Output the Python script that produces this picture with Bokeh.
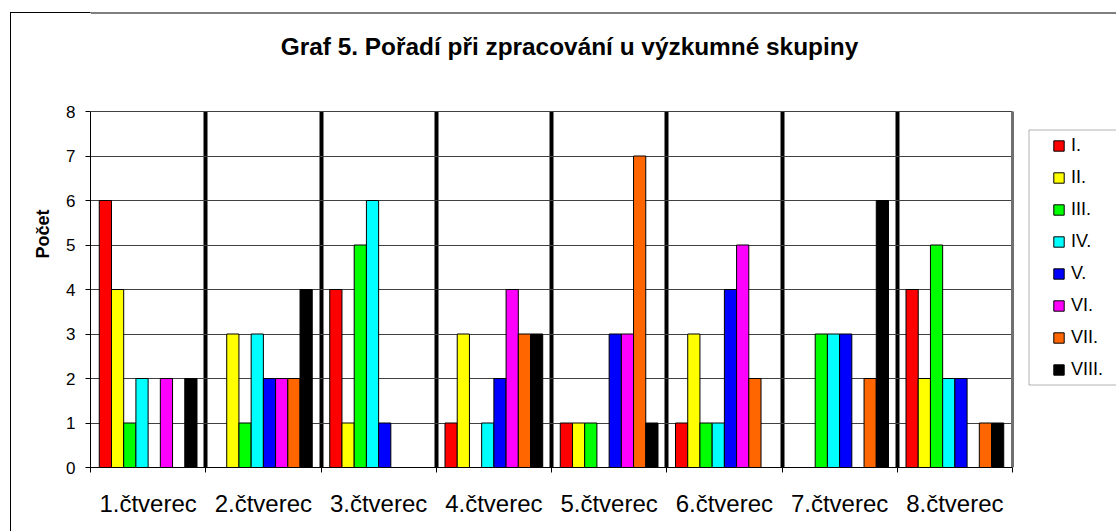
from bokeh.plotting import figure
from bokeh.models import (FixedTicker, Legend, LegendItem, BoxAnnotation, Grid,
                          ColumnDataSource, Range1d, Label, Span)
from bokeh.transform import dodge
from bokeh.embed import file_html
from bokeh.resources import INLINE

# ---------------- data ----------------
categories = ["1.čtverec", "2.čtverec", "3.čtverec", "4.čtverec",
              "5.čtverec", "6.čtverec", "7.čtverec", "8.čtverec"]
series_names = ["I.", "II.", "III.", "IV.", "V.", "VI.", "VII.", "VIII."]
colors = ["#FF0000", "#FFFF00", "#00FF00", "#00FFFF",
          "#0000FF", "#FF00FF", "#FF6600", "#000000"]
s_I    = [6, 0, 4, 1, 1, 1, 0, 4]
s_II   = [4, 3, 1, 3, 1, 3, 0, 2]
s_III  = [1, 1, 5, 0, 1, 1, 3, 5]
s_IV   = [2, 3, 6, 1, 0, 1, 3, 2]
s_V    = [0, 2, 1, 2, 3, 4, 3, 2]
s_VI   = [2, 2, 0, 4, 3, 5, 0, 0]
s_VII  = [0, 2, 0, 3, 7, 2, 2, 1]
s_VIII = [2, 4, 0, 3, 1, 0, 6, 1]
y_ticks = [0, 1, 2, 3, 4, 5, 6, 7, 8]
title_text = "Graf 5. Pořadí při zpracování u výzkumné skupiny"

series = [s_I, s_II, s_III, s_IV, s_V, s_VI, s_VII, s_VIII]
FONT = "Liberation Sans"

n_cat = len(categories)
y_max = y_ticks[-1]
centers = [i + 0.5 for i in range(n_cat)]
data = {"x": centers}
for j, s in enumerate(series):
    data[f"s{j}"] = s
src = ColumnDataSource(data)

# layout (pixels): the frame reaches the top and right edges so the title and
# legend live inside it; the plotting area itself is 922 x 356 px.
W, H = 1116, 531
frame_left, plot_top, frame_bottom = 90, 111, 467
plot_w = 922
border_top = 12.5
x_end = n_cat * (W - frame_left) / plot_w
y_end = y_max * frame_bottom / (frame_bottom - plot_top)

p = figure(width=W, height=H, output_backend="svg", toolbar_location=None,
           x_range=Range1d(0, x_end), y_range=Range1d(0, y_end),
           min_border_left=frame_left, min_border_right=0,
           min_border_top=0, min_border_bottom=H - frame_bottom,
           background_fill_color="white", border_fill_alpha=0)
p.title.text = ""
p.outline_line_color = None
# outer chart border (left part, outside the frame)
p.styles = {
    "background-color": "white",
    "background-image": "linear-gradient(#000,#000), linear-gradient(#000,#000)",
    "background-size": "1px 100%, 100% 1px",
    "background-position": "10px 12px, 10px 12px",
    "background-repeat": "no-repeat",
}
# outer chart border (top line, part inside the frame)
p.add_layout(Span(location=y_end * (frame_bottom - border_top) / frame_bottom,
                  dimension="width", line_color="black", line_width=1))

# bars
bw = 0.106
renderers = []
for j, (name, col) in enumerate(zip(series_names, colors)):
    r = p.vbar(x=dodge("x", (j - 3.5) * bw, range=p.x_range), top=f"s{j}",
               width=bw, source=src, fill_color=col, line_color="black",
               line_width=1)
    renderers.append(r)

# x axis: labels at centres, small ticks at category boundaries
xa = p.xaxis[0]
xa.bounds = (0, n_cat)
xa.ticker = FixedTicker(ticks=centers, minor_ticks=list(range(n_cat + 1)))
xa.major_label_overrides = {c: lab for c, lab in zip(centers, categories)}
xa.major_tick_out = 0
xa.major_tick_in = 0
xa.minor_tick_out = 5
xa.minor_tick_in = 0
xa.minor_tick_line_color = "black"
xa.axis_line_color = "black"
xa.major_label_text_font = FONT
xa.major_label_text_font_size = "24px"
xa.major_label_text_color = "black"
xa.major_label_standoff = 17

# y axis
ya = p.yaxis[0]
ya.bounds = (0, y_max)
ya.ticker = FixedTicker(ticks=y_ticks, minor_ticks=[])
ya.major_tick_out = 5
ya.major_tick_in = 0
ya.minor_tick_out = 0
ya.major_tick_line_color = "black"
ya.axis_line_color = "black"
ya.major_label_text_font = FONT
ya.major_label_text_font_size = "17px"
ya.major_label_text_color = "black"
ya.major_label_standoff = 10
ya.axis_label = "Počet"
ya.axis_label_text_font = FONT
ya.axis_label_text_font_size = "18px"
ya.axis_label_text_font_style = "bold"
ya.axis_label_text_color = "black"
ya.axis_label_standoff = 10

# grids
yg = p.ygrid[0]
yg.grid_line_color = "#404040"
yg.grid_line_width = 1
yg.cross_bounds = (0, n_cat)
xg = p.xgrid[0]
xg.ticker = FixedTicker(ticks=list(range(1, n_cat)))
xg.grid_line_color = "black"
xg.grid_line_width = 4
xg.cross_bounds = (0, y_max)
p.add_layout(Grid(dimension=0, ticker=FixedTicker(ticks=[n_cat]),
                  cross_bounds=(0, y_max),
                  grid_line_color="#707070", grid_line_width=3))

# title
p.add_layout(Label(x=479, y=421, x_units="screen", y_units="screen",
                   text=title_text, text_align="center",
                   text_baseline="middle", text_font=FONT,
                   text_font_size="24.4px", text_font_style="bold",
                   text_color="black"))

# legend box
p.add_layout(BoxAnnotation(left=1028.5, right=1400, top=129.5, bottom=384.5,
                           left_units="canvas", right_units="canvas",
                           top_units="canvas", bottom_units="canvas",
                           fill_color="white", fill_alpha=1,
                           line_color="black", line_width=1))

legend = Legend(items=[LegendItem(label=n, renderers=[r])
                       for n, r in zip(series_names, renderers)],
                location=(962, 87), orientation="vertical",
                border_line_alpha=0, background_fill_alpha=0,
                padding=0, margin=0, spacing=11,
                glyph_width=13, glyph_height=13, label_height=21,
                label_standoff=6, label_text_font=FONT,
                label_text_font_size="18px", label_text_color="black")
p.add_layout(legend)

open("out.html", "w").write(file_html(p, INLINE))
